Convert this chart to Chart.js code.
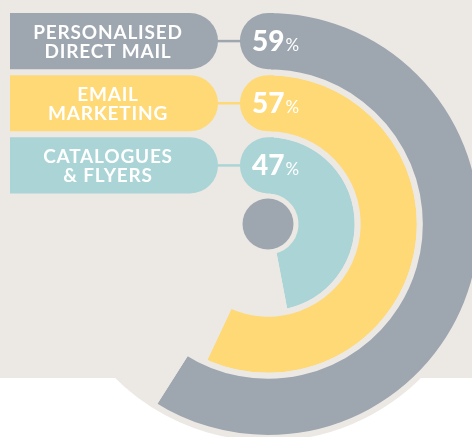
<!DOCTYPE html>
<html>
<head>
<meta charset="utf-8">
<script src="https://cdn.jsdelivr.net/npm/chart.js@4.4.1/dist/chart.umd.min.js"></script>
<style>
  html, body { margin: 0; padding: 0; overflow: hidden; background: #fff; }
  #wrap { position: absolute; left: 0; top: 0; width: 536px; height: 448px; }
</style>
</head>
<body>
<div id="wrap"><canvas id="radialChart"></canvas></div>
<script>
// channels, outer ring first
var categories = [['PERSONALISED', 'DIRECT MAIL'], ['EMAIL', 'MARKETING'], ['CATALOGUES', '& FLYERS']];
var values = [59, 57, 47];
var total = 100;

var ringColors = ['#9ea6b0', '#fed976', '#aad4d6'];
var BEIGE = '#ece9e5';
var GAP = 6;

// beige page with a white strip at the bottom
var backdrop = {
    id: 'backdrop',
    beforeDraw: function(chart) {
        var ctx = chart.ctx;
        ctx.save();
        ctx.fillStyle = '#ffffff';
        ctx.fillRect(0, 0, chart.width, chart.height);
        ctx.fillStyle = BEIGE;
        ctx.fillRect(0, 0, chart.width, 378);
        ctx.restore();
    }
};

// round caps, pills with the channel names and the % values
var pillLabels = {
    id: 'pillLabels',
    afterDatasetsDraw: function(chart) {
        var ctx = chart.ctx;
        ctx.save();
        var center = null;
        chart.data.datasets.forEach(function(ds, i) {
            var arc = chart.getDatasetMeta(i).data[0];
            var p = arc.getProps(['x', 'y', 'innerRadius', 'outerRadius', 'startAngle'], true);
            var half = (p.outerRadius - p.innerRadius - GAP) / 2;
            var mid = (p.outerRadius + p.innerRadius) / 2;
            var cx = p.x + Math.cos(p.startAngle) * mid;
            var cy = p.y + Math.sin(p.startAngle) * mid;
            var color = ringColors[i];
            center = p;

            // cap on the start of the ring
            ctx.fillStyle = color;
            ctx.beginPath();
            ctx.moveTo(cx + 6, cy - half);
            ctx.lineTo(cx, cy - half);
            ctx.arc(cx, cy, half, -Math.PI / 2, Math.PI / 2, true);
            ctx.lineTo(cx + 6, cy + half);
            ctx.closePath();
            ctx.fill();

            // pill
            var x0 = 10, x1 = 218;
            ctx.beginPath();
            ctx.moveTo(x0, cy - half);
            ctx.lineTo(x1 - half, cy - half);
            ctx.arc(x1 - half, cy, half, -Math.PI / 2, Math.PI / 2);
            ctx.lineTo(x0, cy + half);
            ctx.closePath();
            ctx.fill();

            // connector
            ctx.strokeStyle = color;
            ctx.lineWidth = 2.5;
            ctx.beginPath();
            ctx.moveTo(x1 - 1, cy);
            ctx.lineTo(cx - half + 1, cy);
            ctx.stroke();

            // channel name
            ctx.fillStyle = '#ffffff';
            ctx.textAlign = 'center';
            ctx.textBaseline = 'alphabetic';
            ctx.font = '700 19px Lato';
            ctx.letterSpacing = '0.8px';
            ctx.fillText(categories[i][0], 108, cy - 2.5);
            ctx.fillText(categories[i][1], 108, cy + 16.5);
            ctx.letterSpacing = '0px';

            // value
            ctx.textAlign = 'left';
            var tx = cx - half + 12;
            ctx.font = '900 28px Lato';
            var num = String(ds.data[0]);
            ctx.fillText(num, tx, cy + 10);
            var w = ctx.measureText(num).width;
            ctx.font = '400 17px Lato';
            ctx.fillText('%', tx + w + 1, cy + 10);
        });

        // dot in the middle
        ctx.fillStyle = ringColors[0];
        ctx.beginPath();
        ctx.arc(center.x, center.y, center.innerRadius - 2, 0, Math.PI * 2);
        ctx.fill();
        ctx.restore();
    }
};

function draw() {
    var ctx = document.getElementById('radialChart').getContext('2d');
    new Chart(ctx, {
        type: 'doughnut',
        data: {
            labels: ['Share', 'Rest'],
            datasets: values.map(function(v, i) {
                return {
                    label: categories[i].join(' '),
                    data: [v, total - v],
                    backgroundColor: [ringColors[i], BEIGE],
                    borderColor: BEIGE,
                    borderWidth: GAP,
                    hoverOffset: 0
                };
            })
        },
        options: {
            responsive: true,
            maintainAspectRatio: false,
            animation: false,
            events: [],
            radius: 214,
            cutout: '12.85%',
            rotation: 0,
            layout: { padding: 0 },
            plugins: {
                legend: { display: false },
                tooltip: { enabled: false }
            }
        },
        plugins: [backdrop, pillLabels]
    });
}

Promise.all([
    document.fonts.load('700 19px Lato'),
    document.fonts.load('900 28px Lato'),
    document.fonts.load('400 17px Lato')
]).then(draw, draw);
</script>
</body>
</html>
